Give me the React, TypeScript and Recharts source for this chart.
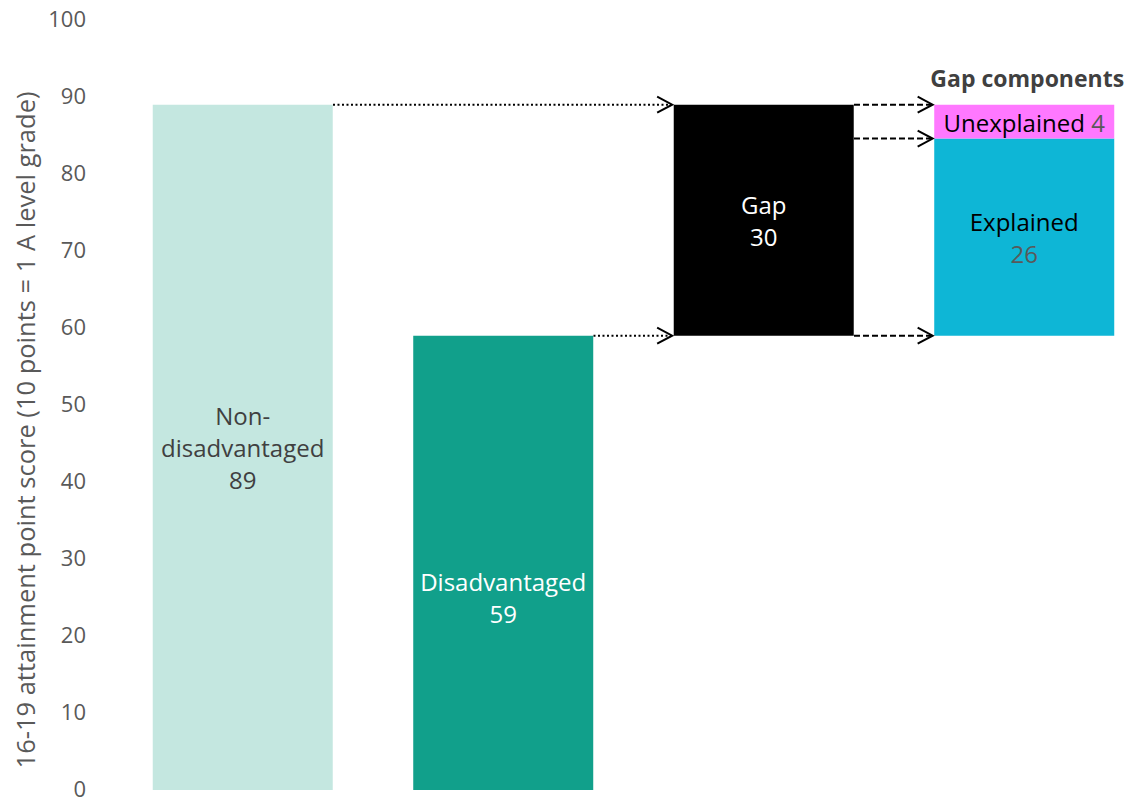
import { BarChart, Bar, XAxis, YAxis, Cell, LabelList, ReferenceLine } from 'recharts';

// bar positions on the numeric x axis, one per category
const positions = [1, 2, 3, 4];
const categories = ['Non-disadvantaged', 'Disadvantaged', 'Gap', 'Gap components'];
const baseValues = [0, 0, 59, 59];
const mainValues: (number | null)[] = [89, 59, 30, null];
const explainedValues: (number | null)[] = [null, null, null, 25.6];
const unexplainedValues: (number | null)[] = [null, null, null, 4.4];
const mainLabelLines = [['Non-', 'disadvantaged'], ['Disadvantaged'], ['Gap']];
const yTicks = [0, 10, 20, 30, 40, 50, 60, 70, 80, 90, 100];
const yAxisTitle = '16-19 attainment point score (10 points = 1 A level grade)';
const componentsTitle = 'Gap components';

const mainColors = ['#c4e7e0', '#11a08b', '#000000'];
const mainTextColors = ['#404040', '#ffffff', '#ffffff'];
const mainNumberColors = ['#404040', '#ffffff', '#ffffff'];
const mainLabelShift = [0, 34, 0];
const EXPLAINED = '#0eb6d6';
const UNEXPLAINED = '#ff78ff';
const GREY = '#595959';
const FONT = '"Open Sans", sans-serif';

const data = positions.map((x, i) => ({
  x,
  name: categories[i],
  base: baseValues[i],
  main: mainValues[i],
  explained: explainedValues[i],
  unexplained: unexplainedValues[i],
}));

// half a bar (180px) in x units, and a small gap before the arrow tip
const HALF = 0.3455;
const TIP_GAP = 0.007;

const gapTop = baseValues[2] + (mainValues[2] ?? 0);
const explainedTop = baseValues[3] + (explainedValues[3] ?? 0);
const arrows = [
  { from: positions[0], to: positions[2], y: mainValues[0] ?? 0, dash: '2 2.5' },
  { from: positions[1], to: positions[2], y: mainValues[1] ?? 0, dash: '2 2.5' },
  { from: positions[2], to: positions[3], y: gapTop, dash: '6 3' },
  { from: positions[2], to: positions[3], y: explainedTop, dash: '6 3' },
  { from: positions[2], to: positions[3], y: baseValues[3], dash: '6 3' },
];

function arrowShape(dash: string) {
  return (p: any) => (
    <g>
      <line x1={p.x1} y1={p.y1} x2={p.x2 - 1} y2={p.y2} stroke="#000" strokeWidth={2} strokeDasharray={dash} />
      <polyline
        points={`${p.x2 - 15},${p.y2 - 8} ${p.x2},${p.y2} ${p.x2 - 15},${p.y2 + 8}`}
        fill="none"
        stroke="#000"
        strokeWidth={2}
      />
    </g>
  );
}

function MainLabel(props: any) {
  const { x, y, width, height, index, value } = props;
  if (value == null || index > 2) return null;
  const lines = [...mainLabelLines[index], String(Math.round(value))];
  const lh = 32;
  const cx = x + width / 2;
  const cy = y + height / 2 + mainLabelShift[index];
  const first = cy - ((lines.length - 1) * lh) / 2;
  return (
    <text textAnchor="middle" fontFamily={FONT} fontSize={24} dominantBaseline="central">
      {lines.map((l, k) => (
        <tspan
          key={k}
          x={cx}
          y={first + k * lh}
          fill={k === lines.length - 1 ? mainNumberColors[index] : mainTextColors[index]}
        >
          {l}
        </tspan>
      ))}
    </text>
  );
}

function ExplainedLabel(props: any) {
  const { x, y, width, height, value } = props;
  if (value == null) return null;
  const cx = x + width / 2;
  const cy = y + height / 2;
  return (
    <text textAnchor="middle" fontFamily={FONT} fontSize={24} dominantBaseline="central">
      <tspan x={cx} y={cy - 16} fill="#000">Explained</tspan>
      <tspan x={cx} y={cy + 16} fill={GREY}>{Math.round(value)}</tspan>
    </text>
  );
}

function UnexplainedLabel(props: any) {
  const { x, y, width, height, value } = props;
  if (value == null) return null;
  const cx = x + width / 2;
  return (
    <g>
      <text x={cx} y={y + height / 2} textAnchor="middle" fontFamily={FONT} fontSize={24} dominantBaseline="central">
        <tspan fill="#000">Unexplained </tspan>
        <tspan fill={GREY}>{Math.round(value)}</tspan>
      </text>
      <text x={cx + 3} y={y - 18} textAnchor="middle" fontFamily={FONT} fontSize={23} fontWeight="bold" fill="#404040">
        {componentsTitle}
      </text>
    </g>
  );
}

function AxisTitle(props: any) {
  const vb = props.viewBox;
  const cx = 25;
  const cy = vb.y + vb.height / 2 + 25;
  return (
    <text
      x={cx}
      y={cy}
      transform={`rotate(-90 ${cx} ${cy})`}
      textAnchor="middle"
      dominantBaseline="central"
      fontFamily={FONT}
      fontSize={25.5}
      fill={GREY}
    >
      {yAxisTitle}
    </text>
  );
}

export default function App() {
  return (
    <div style={{ position: 'absolute', left: 0, top: 0, width: 1129, height: 799, background: '#fff' }}>
      <BarChart width={1129} height={799} data={data} margin={{ top: 20, right: 0, bottom: 9, left: 0 }}>
        <XAxis dataKey="x" type="number" domain={[0.4511, 4.4012]} allowDataOverflow hide />
        <YAxis
          type="number"
          domain={[0, 100]}
          ticks={yTicks}
          interval={0}
          width={100}
          axisLine={false}
          tickLine={false}
          tickMargin={8}
          tick={{ fontSize: 22, fill: GREY, fontFamily: FONT, dy: -1 }}
          label={<AxisTitle />}
        />
        <Bar dataKey="base" stackId="s" fill="transparent" barSize={180} isAnimationActive={false} />
        <Bar dataKey="main" stackId="s" barSize={180} isAnimationActive={false}>
          {data.map((d, i) => (
            <Cell key={d.name} fill={mainColors[i] ?? '#000'} />
          ))}
          <LabelList dataKey="main" content={<MainLabel />} />
        </Bar>
        <Bar dataKey="explained" stackId="s" fill={EXPLAINED} barSize={180} isAnimationActive={false}>
          <LabelList dataKey="explained" content={<ExplainedLabel />} />
        </Bar>
        <Bar dataKey="unexplained" stackId="s" fill={UNEXPLAINED} barSize={180} isAnimationActive={false}>
          <LabelList dataKey="unexplained" content={<UnexplainedLabel />} />
        </Bar>
        {arrows.map((a, i) => (
          <ReferenceLine
            key={i}
            segment={[
              { x: a.from + HALF, y: a.y },
              { x: a.to - HALF - TIP_GAP, y: a.y },
            ]}
            shape={arrowShape(a.dash)}
          />
        ))}
      </BarChart>
    </div>
  );
}
